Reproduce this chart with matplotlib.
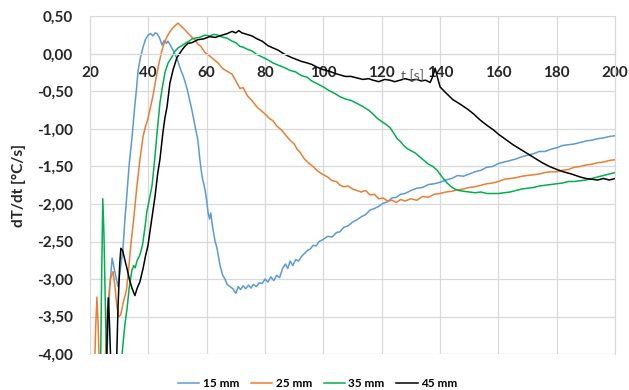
import matplotlib
matplotlib.use("Agg")
import matplotlib.pyplot as plt
from matplotlib.ticker import FuncFormatter

plt.rcParams['font.family'] = ['Lato', 'DejaVu Sans']

# 15 mm
t15 = [25.5, 26.8, 27.6, 28.5, 29.6, 30.5, 31.3, 32.0, 32.7, 33.5, 34.4, 35.3, 36.0, 36.5, 37.3,
       38.2, 39.0, 39.9, 40.8, 41.6, 42.4, 43.0, 43.8, 44.7, 45.5, 46.2, 46.7, 47.5, 48.3, 49.0,
       50.0, 51.0, 52.0, 52.6, 53.5, 54.3, 55.0, 55.8, 56.5, 57.0, 57.7, 58.5, 59.4, 60.0, 60.5,
       61.0, 61.4, 62.0, 62.9, 63.5, 64.6, 65.5, 66.3, 67.0, 68.0, 69.0, 70.0, 70.8, 71.6, 72.5,
       73.4, 74.3, 75.2, 76.0, 77.0, 78.0, 79.0, 80.0, 81.0, 82.0, 83.0, 84.0, 85.0, 86.0, 87.0,
       87.8, 88.6, 89.5, 90.5, 91.5, 92.5, 93.5, 94.5, 95.5, 96.5, 97.5, 98.5, 100, 101.5, 103,
       104.5, 105.7, 107, 108.5, 110, 111.5, 113, 114.5, 116, 117.5, 119, 120.5, 122, 123.5, 125,
       126.5, 128, 130, 132, 134, 136, 138, 140, 142, 144, 146, 148, 150, 152, 154,
       156, 158, 160, 162, 164, 166, 168, 170, 172, 174, 176, 178, 180, 182, 184,
       186, 188, 190, 192, 194, 196, 198, 200]
v15 = [-4.3, -3.1, -2.72, -2.9, -3.1, -2.85, -2.6, -2.2, -1.85, -1.45, -1.12, -0.72, -0.45, -0.22, -0.05,
       0.09, 0.19, 0.25, 0.27, 0.24, 0.28, 0.27, 0.22, 0.12, 0.18, 0.14, 0.17, 0.12, 0.06, 0.01,
       -0.08, -0.2, -0.3, -0.37, -0.5, -0.64, -0.76, -0.92, -1.05, -1.15, -1.42, -1.65, -1.8, -1.95, -2.12,
       -2.2, -2.12, -2.3, -2.5, -2.58, -2.82, -2.95, -3.0, -3.07, -3.1, -3.13, -3.19, -3.1, -3.14, -3.09,
       -3.13, -3.08, -3.12, -3.07, -3.1, -3.05, -3.06, -3.0, -3.04, -2.97, -3.02, -2.95, -2.98, -2.86, -2.8,
       -2.86, -2.76, -2.82, -2.74, -2.76, -2.7, -2.66, -2.62, -2.6, -2.55, -2.56, -2.5, -2.47, -2.43, -2.44,
       -2.38, -2.37, -2.31, -2.29, -2.24, -2.21, -2.17, -2.14, -2.08, -2.06, -2.03, -1.99, -1.97, -1.92, -1.91,
       -1.87, -1.86, -1.82, -1.79, -1.78, -1.74, -1.73, -1.71, -1.68, -1.66, -1.62, -1.63, -1.6, -1.57, -1.55,
       -1.51, -1.5, -1.46, -1.44, -1.42, -1.4, -1.37, -1.35, -1.33, -1.3, -1.3, -1.27, -1.25, -1.22, -1.21,
       -1.2, -1.18, -1.16, -1.15, -1.13, -1.12, -1.1, -1.09]

# 25 mm
t25 = [21.5, 22.0, 22.4, 22.8, 23.3, 25.0, 26.0, 27.0, 27.9, 28.6, 29.2, 29.8, 30.5, 31.5, 32.5,
       33.3, 34.0, 35.0, 36.0, 37.0, 38.2, 39.0, 39.9, 40.8, 41.6, 42.3, 43.0, 43.8, 44.7, 45.5,
       46.4, 47.5, 48.5, 49.3, 50.2, 51.0, 51.8, 52.6, 53.5, 54.3, 55.2, 56.0, 57.0, 58.0, 59.4,
       60.5, 62.0, 63.9, 65.6, 67.0, 68.7, 70.0, 71.4, 72.5, 74.0, 75.5, 77.3, 78.5, 80.0, 81.5,
       82.7, 84.0, 85.8, 87.0, 88.6, 90.0, 91.0, 92.0, 93.5, 95.4, 96.5, 98.0, 100, 101.5, 103,
       104.5, 105.7, 107, 108.5, 110, 111.5, 113, 114.5, 116, 117.5, 119, 120.5, 122, 123.5, 125,
       126.5, 128, 130, 132, 134, 136, 138, 140, 142, 144, 146, 148, 150, 152, 154,
       156, 158, 160, 162, 164, 166, 168, 170, 172, 174, 176, 178, 180, 182, 184,
       186, 188, 190, 192, 194, 196, 198, 200]
v25 = [-4.3, -3.6, -3.24, -3.6, -4.3, -4.3, -3.4, -3.0, -2.9, -3.1, -3.35, -3.5, -3.48, -3.3, -3.15,
       -2.85, -2.55, -2.2, -1.8, -1.45, -1.1, -0.97, -0.86, -0.7, -0.56, -0.4, -0.25, -0.1, 0.05, 0.15,
       0.23, 0.3, 0.35, 0.38, 0.41, 0.38, 0.35, 0.32, 0.28, 0.25, 0.21, 0.19, 0.13, 0.1, 0.02,
       -0.01, -0.06, -0.12, -0.2, -0.23, -0.27, -0.36, -0.46, -0.45, -0.56, -0.62, -0.71, -0.75, -0.8, -0.86,
       -0.89, -0.96, -1.02, -1.08, -1.15, -1.2, -1.27, -1.31, -1.4, -1.47, -1.5, -1.56, -1.61, -1.64, -1.69,
       -1.7, -1.75, -1.77, -1.76, -1.8, -1.82, -1.84, -1.82, -1.88, -1.87, -1.93, -1.92, -1.96, -1.95, -1.98,
       -1.94, -1.96, -1.93, -1.95, -1.9, -1.91, -1.87, -1.86, -1.84, -1.83, -1.81, -1.8, -1.78, -1.77, -1.75,
       -1.73, -1.72, -1.7, -1.67, -1.66, -1.65, -1.63, -1.62, -1.61, -1.6, -1.58, -1.57, -1.57, -1.55, -1.54,
       -1.51, -1.5, -1.48, -1.47, -1.45, -1.44, -1.42, -1.41]

# 35 mm
t35 = [23.6, 24.0, 24.4, 24.8, 25.4, 25.8, 30.5, 31.0, 32.0, 32.7, 33.5, 34.4, 35.0, 35.5, 36.2,
       37.1, 38.0, 38.9, 39.5, 40.3, 41.3, 42.2, 43.0, 43.5, 44.0, 44.8, 45.7, 46.8, 48.1, 49.0,
       50.2, 51.5, 52.6, 54.0, 55.0, 56.0, 57.5, 59.4, 61.0, 62.5, 63.9, 65.6, 67.0, 68.7, 70.0,
       71.4, 72.5, 74.0, 75.5, 77.3, 79.0, 81.0, 82.7, 84.5, 86.5, 88.6, 90.5, 92.5, 94.4, 96,
       98, 100, 102, 104, 105.7, 107.5, 109.5, 111.5, 113.5, 115.5, 117, 118.5, 120, 121.5, 122.8,
       124, 125.3, 126.5, 127.5, 128.7, 130, 131.5, 133, 134.5, 136, 137.5, 139, 140.3, 141.5, 142.4,
       143.5, 145, 146.5, 148, 150, 152, 154, 156, 158, 160, 162, 164, 166, 168, 170,
       172, 174, 176, 178, 180, 182, 184, 186, 188, 190, 192, 194, 196, 198, 200]
v35 = [-4.3, -3.0, -1.93, -2.4, -3.6, -4.3, -4.3, -4.0, -3.6, -3.4, -3.1, -2.88, -2.82, -2.85, -2.75,
       -2.68, -2.55, -2.3, -2.1, -1.95, -1.75, -1.4, -1.05, -0.85, -0.65, -0.45, -0.25, -0.12, -0.04, 0.03,
       0.08, 0.11, 0.14, 0.17, 0.2, 0.21, 0.22, 0.25, 0.24, 0.26, 0.25, 0.22, 0.21, 0.17, 0.15,
       0.1, 0.09, 0.06, 0.04, -0.01, -0.04, -0.08, -0.12, -0.15, -0.18, -0.22, -0.24, -0.29, -0.31, -0.36,
       -0.4, -0.44, -0.49, -0.53, -0.57, -0.6, -0.62, -0.66, -0.7, -0.75, -0.8, -0.86, -0.9, -0.94, -0.98,
       -1.05, -1.13, -1.17, -1.22, -1.26, -1.29, -1.32, -1.37, -1.42, -1.47, -1.5, -1.55, -1.62, -1.68, -1.72,
       -1.76, -1.8, -1.82, -1.83, -1.84, -1.85, -1.84, -1.86, -1.86, -1.86, -1.85, -1.84, -1.82, -1.8, -1.79,
       -1.78, -1.76, -1.75, -1.74, -1.73, -1.72, -1.7, -1.7, -1.69, -1.68, -1.66, -1.64, -1.62, -1.6, -1.58]

# 45 mm
t45 = [25.6, 26.0, 26.3, 26.7, 27.3, 29.0, 29.6, 30.2, 30.6, 31.2, 32.0, 32.7, 33.5, 34.4, 35.4,
       36.2, 37.1, 38.2, 39.0, 39.9, 41.0, 42.3, 43.2, 44.0, 45.0, 45.7, 46.4, 47.4, 48.5, 49.8,
       51.5, 52.5, 53.6, 55, 57, 59, 61, 63, 65.3, 67, 68.7, 70, 71, 72.1, 73.8,
       75.5, 77.3, 79, 81, 82.7, 84.5, 86.5, 88.6, 90.5, 92.5, 94.4, 96, 98, 100, 102,
       104, 105.7, 107.5, 109.5, 111.5, 113.5, 115.5, 117, 119, 121, 122.8, 124.5, 126.3, 128, 130,
       132, 133.5, 135, 136.6, 137.5, 138.3, 139, 140, 142, 144.4, 146.5, 149.2, 151.5, 153.7, 156,
       158.2, 160, 162.5, 165, 167.5, 170, 172.5, 175, 177.5, 180, 182.2, 185, 188, 190, 192,
       194, 196, 198, 200]
v45 = [-4.3, -3.6, -3.25, -3.6, -4.3, -4.3, -3.4, -2.8, -2.59, -2.62, -2.75, -2.86, -3.0, -3.12, -3.22,
       -3.12, -3.04, -2.86, -2.7, -2.55, -2.25, -1.9, -1.6, -1.4, -1.05, -0.85, -0.71, -0.39, -0.21, -0.05,
       0.05, 0.1, 0.14, 0.15, 0.19, 0.2, 0.23, 0.22, 0.25, 0.27, 0.3, 0.28, 0.31, 0.28, 0.26,
       0.24, 0.2, 0.17, 0.11, 0.08, 0.05, 0.0, -0.04, -0.07, -0.1, -0.12, -0.14, -0.18, -0.21, -0.23,
       -0.26, -0.28, -0.3, -0.3, -0.32, -0.34, -0.33, -0.35, -0.37, -0.34, -0.35, -0.37, -0.35, -0.33, -0.35,
       -0.34, -0.36, -0.35, -0.38, -0.3, -0.19, -0.3, -0.44, -0.52, -0.61, -0.66, -0.73, -0.8, -0.88, -0.95,
       -1.01, -1.07, -1.14, -1.21, -1.27, -1.33, -1.39, -1.45, -1.5, -1.54, -1.57, -1.6, -1.64, -1.66, -1.67,
       -1.68, -1.66, -1.68, -1.66]

labels = ['15 mm', '25 mm', '35 mm', '45 mm']
colors = ['#5B9BD5', '#ED7D31', '#00B050', '#000000']

fig = plt.figure(figsize=(6.29, 3.9), dpi=100)
ax = fig.add_axes([0.143, 0.092, 0.835, 0.866])

series = [(t15, v15), (t25, v25), (t35, v35), (t45, v45)]
for (t, v), lab, c in zip(series, labels, colors):
    ax.plot(t, v, color=c, lw=1.1, label=lab)

ax.set_xlim(20, 200)
ax.set_ylim(-4, 0.5)
ax.set_xticks(range(20, 201, 20))
ax.set_yticks([0.5 - 0.5 * i for i in range(10)])
ax.yaxis.set_major_formatter(FuncFormatter(lambda y, p: f'{y:.2f}'.replace('.', ',')))

grid_c = '#D9D9D9'
ax.grid(True, color=grid_c, lw=0.9)
ax.set_axisbelow(True)
for s in ['top', 'right', 'left']:
    ax.spines[s].set_color(grid_c)
ax.spines['bottom'].set_position(('data', 0))
ax.spines['bottom'].set_color(grid_c)
ax.tick_params(length=0)
ax.tick_params(axis='x', pad=9)
ax.tick_params(axis='y', pad=12)
for lbl in ax.get_xticklabels() + ax.get_yticklabels():
    lbl.set_fontsize(11)
    lbl.set_fontweight('bold')
    lbl.set_color('#262626')

ax.set_ylabel('dT/dt [°C/s]', fontsize=11, fontweight='bold', color='#262626', labelpad=8)
ax.text(130.7, -0.29, 't [s]', fontsize=10, color='#595959', ha='center', va='center')

fig.legend(loc='lower center', ncol=4, frameon=False, bbox_to_anchor=(0.505, -0.025),
           prop={'weight': 'bold', 'size': 8.5}, handlelength=1.8, columnspacing=1.0, handletextpad=0.3)

fig.savefig('out.png', dpi=100)
